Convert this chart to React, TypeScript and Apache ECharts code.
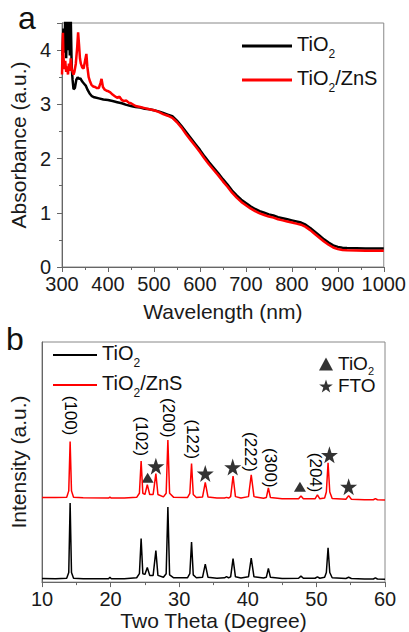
import React, { useEffect, useRef } from "react";
import * as echarts from "echarts";

const FONT = "'Liberation Sans', Arial, sans-serif";

// ---- Panel a: absorbance ----
const tio2Wl = [301, 303, 305, 307, 309, 311, 313, 315, 317, 319, 321, 323, 325, 328, 331, 334, 337, 340, 344, 348, 352, 356, 360, 365, 370, 375, 380, 390, 400, 410, 420, 430, 440, 450, 460, 470, 480, 490, 500, 510, 520, 530, 540, 550, 560, 570, 580, 590, 600, 610, 620, 630, 640, 650, 660, 670, 680, 690, 700, 710, 720, 730, 740, 750, 760, 770, 780, 790, 800, 810, 820, 830, 840, 850, 860, 870, 880, 890, 900, 910, 920, 940, 960, 980, 1000];
const tio2Abs = [3.9, 4.4, 3.95, 4.6, 3.85, 4.55, 4.0, 4.6, 3.9, 4.6, 3.7, 3.45, 3.28, 3.3, 3.45, 3.5, 3.47, 3.48, 3.42, 3.38, 3.34, 3.26, 3.2, 3.15, 3.13, 3.12, 3.11, 3.09, 3.08, 3.06, 3.04, 3.02, 2.99, 2.97, 2.95, 2.94, 2.92, 2.91, 2.89, 2.87, 2.84, 2.81, 2.78, 2.7, 2.6, 2.49, 2.38, 2.27, 2.16, 2.04, 1.93, 1.83, 1.73, 1.62, 1.52, 1.41, 1.32, 1.24, 1.18, 1.12, 1.07, 1.03, 1.0, 0.97, 0.95, 0.92, 0.9, 0.88, 0.86, 0.84, 0.82, 0.78, 0.72, 0.65, 0.58, 0.51, 0.45, 0.4, 0.37, 0.355, 0.35, 0.345, 0.34, 0.34, 0.34];

const znsWl = [300, 301, 302, 303, 305, 307, 309, 311, 313, 315, 317, 319, 321, 323, 325, 327, 330, 333, 335, 337, 339, 341, 344, 347, 350, 353, 355, 358, 361, 364, 368, 372, 376, 380, 384, 386, 389, 393, 397, 401, 405, 410, 415, 420, 425, 430, 435, 440, 445, 450, 460, 470, 480, 490, 500, 510, 520, 530, 540, 550, 560, 570, 580, 590, 600, 610, 620, 630, 640, 650, 660, 670, 680, 690, 700, 710, 720, 730, 740, 750, 760, 770, 780, 790, 800, 810, 820, 830, 840, 850, 860, 870, 880, 890, 900, 910, 920, 940, 960, 980, 1000];
const znsAbs = [3.55, 4.0, 4.32, 3.9, 3.65, 3.8, 3.6, 3.7, 3.55, 3.75, 3.62, 3.85, 3.65, 3.6, 3.55, 3.6, 3.75, 4.05, 4.33, 4.1, 3.85, 3.75, 3.68, 3.66, 3.8, 3.93, 3.7, 3.5, 3.42, 3.36, 3.33, 3.32, 3.3, 3.3, 3.4, 3.47, 3.32, 3.27, 3.25, 3.24, 3.22, 3.18, 3.15, 3.12, 3.14, 3.08, 3.06, 3.07, 3.03, 3.02, 2.97, 2.95, 2.93, 2.91, 2.89, 2.86, 2.82, 2.79, 2.75, 2.67, 2.57, 2.45, 2.34, 2.23, 2.12, 2.0, 1.89, 1.79, 1.69, 1.58, 1.48, 1.37, 1.28, 1.2, 1.14, 1.08, 1.03, 0.99, 0.96, 0.93, 0.91, 0.88, 0.86, 0.84, 0.82, 0.8, 0.78, 0.74, 0.68, 0.61, 0.54, 0.47, 0.41, 0.36, 0.33, 0.315, 0.31, 0.305, 0.3, 0.3, 0.3];

// ---- Panel b: XRD ----
const twoTheta = [10, 12, 13.6, 13.9, 14.1, 14.3, 14.6, 16, 19.7, 19.9, 20.1, 22, 23.8, 24.2, 24.45, 24.7, 25.0, 25.35, 25.7, 26.2, 26.6, 26.9, 27.7, 28.1, 28.35, 28.6, 29.2, 31.2, 31.55, 31.8, 32.05, 32.5, 33.4, 33.8, 34.2, 35.5, 36.6, 36.9, 37.2, 37.5, 37.85, 38.2, 39, 40.1, 40.5, 40.9, 42.3, 42.7, 43.0, 43.3, 45, 47.4, 47.75, 48.1, 49.8, 50.15, 50.5, 51.2, 51.45, 51.7, 51.95, 52.3, 54.3, 54.7, 55.1, 57, 58.3, 58.6, 58.9, 60];
const xrdTiO2 = [1.5, 1.4, 1.6, 4, 32.9, 4, 1.6, 1.4, 1.4, 2.0, 1.4, 1.4, 1.8, 3.5, 18.1, 3.5, 3.2, 6.1, 2.8, 2.8, 13.1, 2.8, 2.0, 3.5, 31.3, 3, 1.8, 1.8, 3.5, 16.7, 3, 1.8, 2, 7.5, 2, 1.6, 1.8, 2.3, 1.8, 2.2, 9.8, 2.2, 1.7, 2.2, 10, 2.2, 1.7, 2, 5.7, 2, 1.5, 1.6, 2.5, 1.6, 1.6, 2.2, 1.6, 2, 4, 14.3, 4, 1.8, 1.5, 2, 1.5, 1.3, 1.3, 1.8, 1.3, 1.2];
const xrdTiO2ZnS = [35.2, 35.2, 35.3, 38, 58.5, 38, 35.3, 35.1, 35, 35.4, 35, 35, 35.3, 37, 50.4, 37, 36.5, 40.6, 36.5, 36.5, 45.2, 36.5, 35.5, 37, 59.2, 37, 35.3, 35.2, 37, 49.4, 36.5, 35.2, 35.4, 41.5, 35.4, 35, 35, 35.3, 35, 35.6, 44.2, 35.6, 35, 35.6, 44.7, 35.6, 34.9, 35.2, 39.2, 35.2, 34.7, 34.7, 35.9, 34.7, 34.7, 36.3, 34.7, 35, 37.5, 49.7, 37.5, 34.8, 34.5, 36, 34.5, 34.3, 34.3, 34.8, 34.3, 34.2];

const triangleMarks = [[25.4, 43.5], [47.6, 39.7]];
const starMarks = [[26.6, 48.3], [33.8, 45.2], [37.8, 47.9], [51.9, 53], [54.7, 39.7]];

const hklNames = ["(100)", "(102)", "(200)", "(122)", "(222)", "(300)", "(204)"];
const hklX = [14.1, 24.5, 28.4, 32.0, 40.4, 43.3, 49.9];
const hklY = [69.4, 60.7, 68.4, 59.5, 54.2, 47.6, 45.6];

const STAR = "path://M50,0 L61.8,35.1 L98.1,35.1 L68.8,56.7 L79.4,91.3 L50,70 L20.6,91.3 L31.2,56.7 L1.9,35.1 L38.2,35.1 Z";

const zip = (xs: number[], ys: number[]) => xs.map((x, i) => [x, ys[i]]);

const richBig = {
  t: { fontSize: 20, fontFamily: FONT, color: "#111", lineHeight: 24, verticalAlign: "top" },
  s: { fontSize: 12, fontFamily: FONT, color: "#111", lineHeight: 14, verticalAlign: "top", padding: [14, 0, 0, 0] },
};
const richSmall = {
  t: { fontSize: 19, fontFamily: FONT, color: "#111", lineHeight: 20, verticalAlign: "top" },
  s: { fontSize: 11, fontFamily: FONT, color: "#111", lineHeight: 12, verticalAlign: "top", padding: [11, 0, 0, 0] },
};

const legendText: Record<string, string> = {
  a_tio2: "{t|TiO}{s|2}",
  a_zns: "{t|TiO}{s|2}{t|/ZnS}",
  b_tio2: "{t|TiO}{s|2}",
  b_zns: "{t|TiO}{s|2}{t|/ZnS}",
  b_tri: "{t|TiO}{s|2}",
  b_star: "{t|FTO}",
};

const plain = (v: number) => String(v);

const axisCommon = (extra: any) => ({
  type: "value",
  axisLine: { show: true, onZero: false, lineStyle: { color: "#666", width: 1 } },
  axisTick: { show: true, inside: false, length: 5, lineStyle: { color: "#666" } },
  minorTick: { show: true, splitNumber: 2, length: 3, lineStyle: { color: "#666" } },
  splitLine: { show: false },
  minorSplitLine: { show: false },
  nameTextStyle: { fontSize: 21, color: "#1a1a1a", fontFamily: FONT },
  nameLocation: "middle",
  ...extra,
});

export default function App() {
  const ref = useRef<HTMLDivElement>(null);
  useEffect(() => {
    document.body.style.margin = "0";
    const chart = echarts.init(ref.current!, null, { renderer: "svg" });
    chart.setOption({
      animation: false,
      textStyle: { fontFamily: FONT },
      grid: [
        { left: 57, top: 23, width: 329, height: 244, show: true, borderColor: "#888", borderWidth: 1 },
        { left: 40, top: 342, width: 345, height: 245, show: true, borderColor: "#888", borderWidth: 1 },
      ],
      xAxis: [
        axisCommon({
          gridIndex: 0, min: 300, max: 1000, interval: 100,
          axisLabel: { fontSize: 20, lineHeight: 16, color: "#1a1a1a", fontFamily: FONT, margin: 9, formatter: plain },
          name: "Wavelength (nm)", nameGap: 34,
        }),
        axisCommon({
          gridIndex: 1, min: 10, max: 60, interval: 10,
          axisLabel: { fontSize: 20, lineHeight: 16, color: "#1a1a1a", fontFamily: FONT, margin: 9, formatter: plain },
          name: "Two Theta (Degree)", nameGap: 27,
        }),
      ],
      yAxis: [
        axisCommon({
          gridIndex: 0, min: 0, max: 4.5, interval: 1,
          axisLabel: { fontSize: 20, lineHeight: 16, color: "#1a1a1a", fontFamily: FONT, margin: 11, showMaxLabel: false, formatter: plain },
          name: "Absorbance (a.u.)", nameGap: 27, nameRotate: 90,
        }),
        axisCommon({
          gridIndex: 1, min: 0, max: 100,
          axisTick: { show: false }, minorTick: { show: false }, axisLabel: { show: false },
          name: "Intensity (a.u.)", nameGap: 13, nameRotate: 90,
        }),
      ],
      legend: [
        {
          data: ["a_tio2", "a_zns"], orient: "vertical", left: 237, top: 29, itemGap: 8,
          itemWidth: 50, itemHeight: 3, icon: "rect",
          formatter: (n: string) => legendText[n], textStyle: { rich: richBig },
          selectedMode: false,
        },
        {
          data: ["b_tio2", "b_zns"], orient: "vertical", left: 48, top: 338, itemGap: 4,
          itemWidth: 44, itemHeight: 2, icon: "rect",
          formatter: (n: string) => legendText[n], textStyle: { rich: richBig },
          selectedMode: false,
        },
        {
          data: ["b_tri", "b_star"], orient: "vertical", left: 314, top: 349, itemGap: 0,
          itemWidth: 14, itemHeight: 13,
          formatter: (n: string) => legendText[n], textStyle: { rich: richSmall },
          selectedMode: false,
        },
      ],
      series: [
        {
          name: "a_tio2", type: "line", xAxisIndex: 0, yAxisIndex: 0, data: zip(tio2Wl, tio2Abs),
          showSymbol: false, symbol: "none", lineStyle: { color: "#000", width: 2.5 }, itemStyle: { color: "#000" },
        },
        {
          name: "a_zns", type: "line", xAxisIndex: 0, yAxisIndex: 0, data: zip(znsWl, znsAbs),
          showSymbol: false, symbol: "none", lineStyle: { color: "#ff0000", width: 2.5 }, itemStyle: { color: "#ff0000" },
        },
        {
          name: "b_tio2", type: "line", xAxisIndex: 1, yAxisIndex: 1, data: zip(twoTheta, xrdTiO2),
          showSymbol: false, symbol: "none", lineStyle: { color: "#000", width: 1.5 }, itemStyle: { color: "#000" },
        },
        {
          name: "b_zns", type: "line", xAxisIndex: 1, yAxisIndex: 1, data: zip(twoTheta, xrdTiO2ZnS),
          showSymbol: false, symbol: "none", lineStyle: { color: "#ff0000", width: 1.5 }, itemStyle: { color: "#ff0000" },
        },
        {
          name: "b_tri", type: "scatter", xAxisIndex: 1, yAxisIndex: 1, data: triangleMarks,
          symbol: "triangle", symbolSize: [12, 10], itemStyle: { color: "#000" },
        },
        {
          name: "b_star", type: "scatter", xAxisIndex: 1, yAxisIndex: 1, data: starMarks,
          symbol: STAR, symbolSize: 17, itemStyle: { color: "#000" },
        },
        {
          name: "b_hkl", type: "scatter", xAxisIndex: 1, yAxisIndex: 1,
          data: hklNames.map((n, i) => ({ name: n, value: [hklX[i], hklY[i]] })),
          symbolSize: 2, itemStyle: { color: "rgba(0,0,0,0)" },
          labelLayout: { hideOverlap: false },
          label: {
            show: true, position: "inside", rotate: -90, formatter: (p: any) => p.name,
            fontSize: 17, color: "#000", fontFamily: FONT, align: "center", verticalAlign: "middle",
            textBorderWidth: 0, textBorderColor: "transparent", opacity: 1,
          },
          z: 5,
        },
      ],
      graphic: [
        { type: "text", left: 18, top: 2, style: { text: "a", fontSize: 32, fontFamily: FONT, fill: "#111" } },
        { type: "text", left: 6, top: 323, style: { text: "b", fontSize: 32, fontFamily: FONT, fill: "#111" } },
      ],
    });
    return () => chart.dispose();
  }, []);
  return <div ref={ref} style={{ width: 409, height: 632 }} />;
}
